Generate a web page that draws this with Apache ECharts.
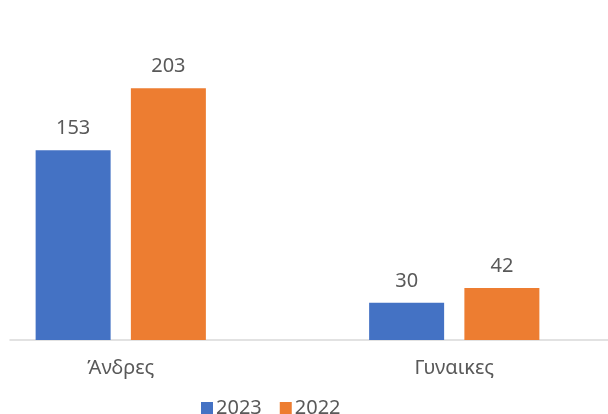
<!DOCTYPE html>
<html>
<head>
<meta charset="utf-8">
<script src="https://cdn.jsdelivr.net/npm/echarts@6/dist/echarts.min.js"></script>
<style>
  html, body { margin: 0; padding: 0; background: #fff; }
  #main { width: 608px; height: 414px; }
</style>
</head>
<body>
<div id="main"></div>
<script>
// categories and values
var categories = ['Άνδρες', 'Γυναικες'];
var seriesNames = ['2023', '2022'];
var values2023 = [153, 30];
var values2022 = [203, 42];

var textColor = '#595959';
var fontFamily = '"Noto Sans", sans-serif';

var chart = echarts.init(document.getElementById('main'), null, { renderer: 'canvas' });

var labelStyle = {
  show: true,
  position: 'top',
  distance: 12,
  color: textColor,
  fontSize: 20,
  fontFamily: fontFamily
};

var option = {
  animation: false,
  textStyle: { fontFamily: fontFamily },
  legend: {
    data: seriesNames,
    left: 196,
    top: 393,
    itemWidth: 12,
    itemHeight: 12,
    itemGap: 18,
    icon: 'rect',
    textStyle: { color: textColor, fontSize: 20, fontFamily: fontFamily, padding: [0, 0, 0, -2] }
  },
  grid: [
    // data grid (wider than the picture so groups sit where they do)
    { left: -46, right: -13, top: 30, bottom: 74, containLabel: false, outerBoundsMode: 'none' },
    // only the visible axis line
    { left: 10, right: 0, top: 30, bottom: 74, containLabel: false, outerBoundsMode: 'none' }
  ],
  xAxis: [{
    type: 'category',
    gridIndex: 0,
    data: categories,
    axisLine: { show: false },
    axisTick: { show: false },
    axisLabel: { color: textColor, fontSize: 20, margin: 18, fontFamily: fontFamily }
  }, {
    type: 'value',
    gridIndex: 1,
    min: 0,
    max: 1,
    axisLine: { show: true, lineStyle: { color: '#d9d9d9', width: 1.5 } },
    axisTick: { show: false },
    axisLabel: { show: false },
    splitLine: { show: false }
  }],
  yAxis: [{
    type: 'value',
    gridIndex: 0,
    min: 0,
    max: 250,
    show: false,
    splitLine: { show: false }
  }, {
    type: 'value',
    gridIndex: 1,
    show: false,
    splitLine: { show: false }
  }],
  series: [{
    name: '2023',
    type: 'bar',
    xAxisIndex: 0,
    yAxisIndex: 0,
    barWidth: 75,
    barGap: '27%',
    itemStyle: { color: '#4472c4' },
    label: labelStyle,
    data: values2023
  }, {
    name: '2022',
    type: 'bar',
    xAxisIndex: 0,
    yAxisIndex: 0,
    barWidth: 75,
    barGap: '27%',
    itemStyle: { color: '#ed7d31' },
    label: labelStyle,
    data: values2022
  }]
};

chart.setOption(option);
</script>
</body>
</html>
